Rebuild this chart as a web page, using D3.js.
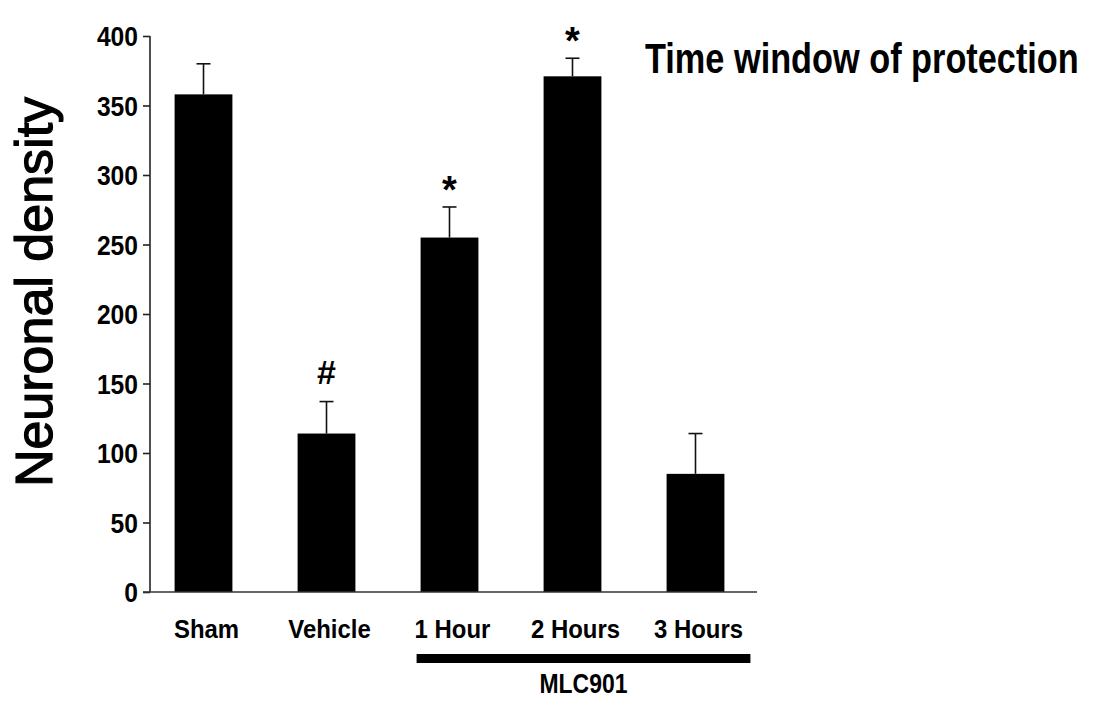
<!DOCTYPE html>
<html>
<head>
<meta charset="utf-8">
<script src="https://cdn.jsdelivr.net/npm/d3@7"></script>
<style>
  body { margin: 0; background: #fff; }
  svg { display: block; }
  text { font-family: "Liberation Sans", Arial, sans-serif; fill: #000; }
</style>
</head>
<body>
<svg id="chart" width="1094" height="704"></svg>
<script>
// ---- data ----
const categories = ["Sham", "Vehicle", "1 Hour", "2 Hours", "3 Hours"];
const means = [358, 114, 255, 371, 85];
const errors = [22, 23, 22, 13, 29];
const markers = ["", "#", "*", "*", ""];
const yTicks = [0, 50, 100, 150, 200, 250, 300, 350, 400];
const groupLabel = "MLC901";
const groupMembers = ["1 Hour", "2 Hours", "3 Hours"];
const title = "Time window of protection";
const yLabel = "Neuronal density";

const svg = d3.select("#chart");

const y = d3.scaleLinear().domain([0, 400]).range([592, 36]);
const x = d3.scaleBand().domain(categories).range([150, 749])
  .paddingInner(0.53).paddingOuter(0.2);

function condense(sel, f) {
  sel.each(function () {
    const w = this.getComputedTextLength();
    d3.select(this).attr("textLength", w * f).attr("lengthAdjust", "spacingAndGlyphs");
  });
}

// bars
svg.append("g").selectAll("rect").data(categories).join("rect")
  .attr("x", d => x(d))
  .attr("width", x.bandwidth())
  .attr("y", (d, i) => y(means[i]))
  .attr("height", (d, i) => y(0) - y(means[i]))
  .attr("fill", "#000");

// error bars
const eb = svg.append("g").attr("stroke", "#111").attr("stroke-width", 1.6);
categories.forEach((c, i) => {
  const cx = x(c) + x.bandwidth() / 2;
  eb.append("line").attr("x1", cx).attr("x2", cx).attr("y1", y(means[i])).attr("y2", y(means[i] + errors[i]));
  eb.append("line").attr("x1", cx - 7).attr("x2", cx + 7).attr("y1", y(means[i] + errors[i])).attr("y2", y(means[i] + errors[i]));
});

// significance markers
svg.append("g").selectAll("text").data(categories).join("text")
  .attr("x", d => x(d) + x.bandwidth() / 2)
  .attr("y", (d, i) => y(means[i] + errors[i]) - (markers[i] === "#" ? 18 : 4))
  .attr("text-anchor", "middle")
  .style("font-size", (d, i) => markers[i] === "#" ? "34px" : "38px")
  .style("font-weight", "bold")
  .text((d, i) => markers[i]);

// y axis
const yAxis = svg.append("g").attr("transform", "translate(150,0)")
  .call(d3.axisLeft(y).tickValues(yTicks).tickSize(7).tickPadding(5).tickFormat(d3.format("d")));
yAxis.select(".domain").attr("stroke", "#222").attr("stroke-width", 1.6).attr("d", `M0,${y(400)}V${y(0)}`);
yAxis.selectAll(".tick line").attr("stroke", "#222").attr("stroke-width", 1.6);
yAxis.selectAll(".tick text")
  .attr("font-family", null)
  .style("font-size", "28px").style("font-weight", "bold").attr("dy", "0.34em");
condense(yAxis.selectAll(".tick text"), 0.88);

// x axis baseline
svg.append("line").attr("x1", 143).attr("x2", 757).attr("y1", y(0)).attr("y2", y(0))
  .attr("stroke", "#333").attr("stroke-width", 1.6);

// category labels
const xl = svg.append("g").selectAll("text").data(categories).join("text")
  .attr("x", d => x(d) + x.bandwidth() / 2 + 3)
  .attr("y", 638)
  .attr("text-anchor", "middle")
  .style("font-size", "26px").style("font-weight", "bold")
  .text(d => d);
condense(xl, 0.92);

// group bar
const g0 = x(groupMembers[0]) - 4, g1 = x(groupMembers[groupMembers.length - 1]) + x.bandwidth() + 26;
svg.append("rect").attr("x", g0).attr("y", 654).attr("width", g1 - g0).attr("height", 9).attr("fill", "#000");
const gl = svg.append("text").attr("x", (g0 + g1) / 2).attr("y", 693).attr("text-anchor", "middle")
  .style("font-size", "27px").style("font-weight", "bold").text(groupLabel);
condense(gl, 0.85);

// y label
svg.append("text").attr("transform", `translate(52,292) rotate(-90)`)
  .attr("text-anchor", "middle").style("font-size", "52px")
  .attr("stroke", "#000").attr("stroke-width", 1.2).text(yLabel);

// title (condensed by horizontal scale so its box stays inside the page)
const t = svg.append("text").style("font-size", "42px").style("font-weight", "bold").text(title);
const tw = t.node().getComputedTextLength();
t.attr("transform", `translate(645,73) scale(${434 / tw},1)`);
</script>
</body>
</html>
